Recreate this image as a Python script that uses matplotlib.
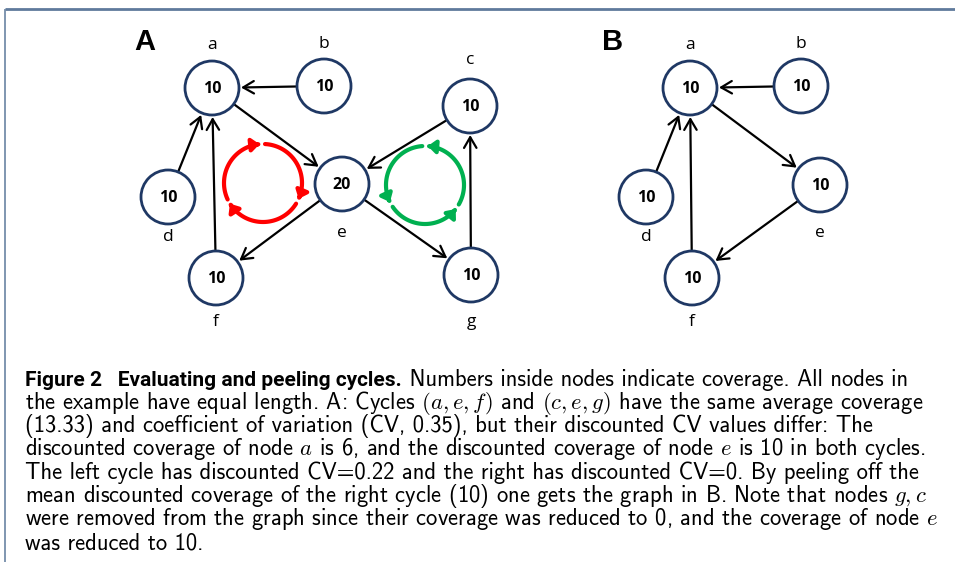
import numpy as np
import matplotlib
matplotlib.use("Agg")
import matplotlib.pyplot as plt
from matplotlib.patches import Circle, FancyArrowPatch
from matplotlib.path import Path

W, H = 955, 562
NAVY = "#1f3864"
R = 27  # node radius in pixels

# panel A graph
a_names = ["a", "b", "c", "d", "e", "f", "g"]
a_cov = [10, 10, 10, 10, 20, 10, 10]
a_x = [212, 324, 470, 168, 342, 216, 471]
a_y = [88, 86, 106, 197, 184, 278, 275]
a_lab_dy = [-43, -42, -46, 40, 49, 44, 47]
a_edges = [("b", "a"), ("a", "e"), ("c", "e"), ("e", "f"), ("e", "g"),
           ("g", "c"), ("f", "a"), ("d", "a")]

# panel B graph (after peeling the right cycle)
b_names = ["a", "b", "d", "e", "f"]
b_cov = [10, 10, 10, 10, 10]
b_x = [690, 801, 646, 820, 692]
b_y = [88, 86, 197, 185, 278]
b_lab_dy = [-43, -42, 40, 48, 44]
b_edges = [("b", "a"), ("a", "e"), ("e", "f"), ("f", "a"), ("d", "a")]

caption_bold = "Figure 2   Evaluating and peeling cycles."
caption_lines = [
    " Numbers inside nodes indicate coverage. All nodes in",
    "the example have equal length. A: Cycles $(a, e, f)$ and $(c, e, g)$ have the same average coverage",
    "(13.33) and coefficient of variation (CV, 0.35), but their discounted CV values differ: The",
    "discounted coverage of node $a$ is 6, and the discounted coverage of node $e$ is 10 in both cycles.",
    "The left cycle has discounted CV=0.22 and the right has discounted CV=0. By peeling off the",
    "mean discounted coverage of the right cycle (10) one gets the graph in B. Note that nodes $g, c$",
    "were removed from the graph since their coverage was reduced to 0, and the coverage of node $e$",
    "was reduced to 10.",
]

plt.rcParams["mathtext.fontset"] = "cm"
plt.rcParams["axes.unicode_minus"] = False
cap_font = ["cmss10", "DejaVu Sans"]
bold_font = ["Roboto", "DejaVu Sans"]
node_font = ["Open Sans", "DejaVu Sans"]

fig = plt.figure(figsize=(W / 100, H / 100), dpi=100)
ax = fig.add_axes([0, 0, 1, 1])
ax.set_xlim(0, W)
ax.set_ylim(H, 0)
ax.axis("off")

# frame
ax.plot([5, W], [9, 9], color="#5f7a9c", lw=2.0, solid_capstyle="butt")
ax.plot([5, 5], [9, H], color="#6a84a3", lw=1.2, solid_capstyle="butt")


def draw_graph(names, cov, xs, ys, lab_dy, edges):
    pos = {n: np.array([x, y], float) for n, x, y in zip(names, xs, ys)}
    for s, t in edges:
        p0, p1 = pos[s], pos[t]
        u = (p1 - p0) / np.hypot(*(p1 - p0))
        a = FancyArrowPatch(p0 + u * (R + 1), p1 - u * (R + 2),
                            arrowstyle="->,head_length=0.55,head_width=0.32",
                            mutation_scale=14, lw=1.6, color="black",
                            shrinkA=0, shrinkB=0, zorder=2)
        ax.add_patch(a)
    for n, c, x, y, dy in zip(names, cov, xs, ys, lab_dy):
        ax.add_patch(Circle((x, y), R, facecolor="white", edgecolor=NAVY,
                            lw=2.0, zorder=3))
        ax.text(x, y + 1, str(c), ha="center", va="center", fontsize=11.5,
                fontweight="bold", family=node_font, zorder=4)
        ax.text(x, y + dy, n, ha="center", va="center", fontsize=12.5,
                family=node_font)


def cycle(cx, cy, r, arcs, color):
    for t0, t1 in arcs:
        th = np.radians(np.linspace(t0, t1, 60))
        verts = np.column_stack([cx + r * np.cos(th), cy - r * np.sin(th)])
        p = FancyArrowPatch(path=Path(verts),
                            arrowstyle="-|>,head_length=0.45,head_width=0.38",
                            mutation_scale=10, lw=3.0, color=color, zorder=2)
        ax.add_patch(p)


draw_graph(a_names, a_cov, a_x, a_y, a_lab_dy, a_edges)
draw_graph(b_names, b_cov, b_x, b_y, b_lab_dy, b_edges)

# clockwise red cycle, counter-clockwise green cycle
cycle(263, 183, 39, [(205, 95), (87, -24), (-32, -148)], "#ff0000")
cycle(425, 185, 39, [(-30, 86), (94, 206), (214, 322)], "#00b050")

ax.text(145, 42, "A", ha="center", va="center", fontsize=21,
        fontweight="bold", family="Liberation Sans")
ax.text(613, 42, "B", ha="center", va="center", fontsize=21,
        fontweight="bold", family="Liberation Sans")

# caption
x0 = 25
base = [386, 409, 432, 455, 479, 502, 525, 549]
fig.canvas.draw()
rend = fig.canvas.get_renderer()
tb = ax.text(x0, base[0], caption_bold, fontsize=13, fontweight="bold",
             family=bold_font, va="baseline")
tb.set_fontsize(13 * 374.0 / tb.get_window_extent(rend).width)
wb = tb.get_window_extent(rend).width

texts = []
for i, (line, y) in enumerate(zip(caption_lines, base)):
    xs = x0 + wb if i == 0 else x0
    texts.append(ax.text(xs, y, line, fontsize=13, family=cap_font,
                         va="baseline"))
# the longest justified lines run to about x=939 in the reference
scale = min((939.0 - t.get_position()[0]) / t.get_window_extent(rend).width
            for t in texts[:7])
for t in texts:
    t.set_fontsize(13 * scale)

fig.savefig("out.png", dpi=100)
